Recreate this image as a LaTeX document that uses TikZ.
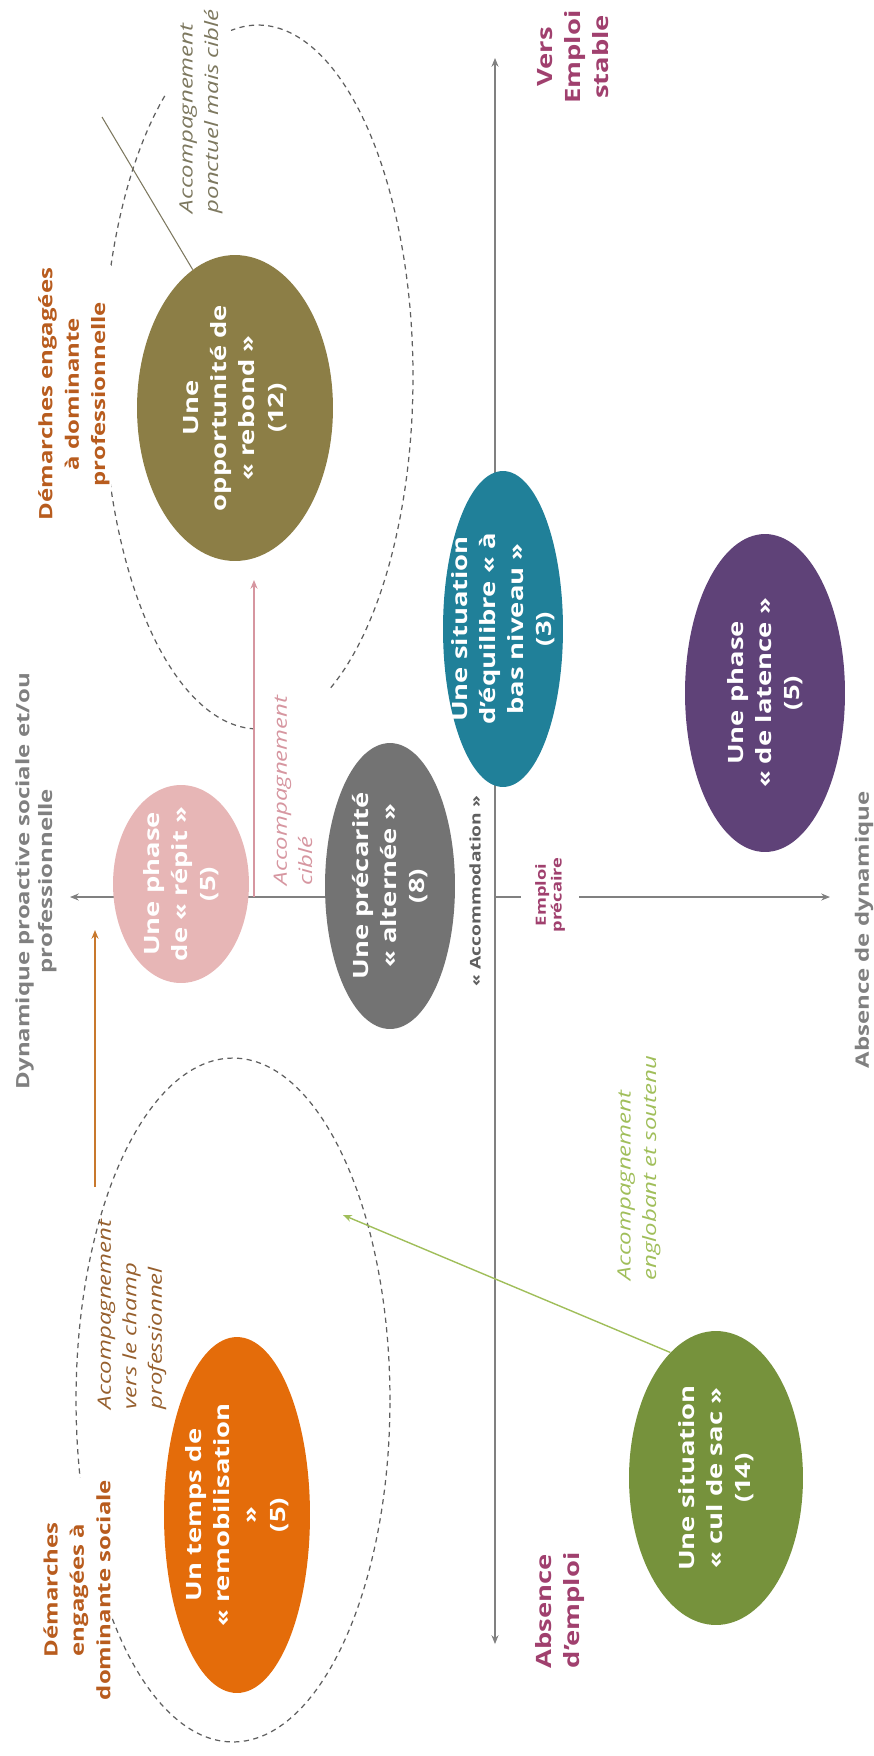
\documentclass[tikz,border=0pt]{standalone}
\usepackage{fontspec}
\setmainfont{Open Sans}
\usetikzlibrary{shapes.geometric}
\usetikzlibrary{arrows.meta}

\definecolor{axisgray}{RGB}{128,128,128}
\definecolor{dashgray}{RGB}{95,95,95}
\definecolor{rebondcol}{RGB}{140,126,70}
\definecolor{repitcol}{RGB}{231,182,182}
\definecolor{alterneecol}{RGB}{115,115,115}
\definecolor{equilibrecol}{RGB}{32,128,153}
\definecolor{latencecol}{RGB}{95,66,120}
\definecolor{remobcol}{RGB}{228,108,10}
\definecolor{culdesaccol}{RGB}{118,146,60}
\definecolor{emploicol}{RGB}{160,64,110}
\definecolor{demarchecol}{RGB}{184,92,30}
\definecolor{ponctuelcol}{RGB}{125,120,95}
\definecolor{ciblecol}{RGB}{214,150,160}
\definecolor{champcol}{RGB}{150,95,45}
\definecolor{englobantcol}{RGB}{160,190,90}
\definecolor{orangeline}{RGB}{200,120,45}

\begin{document}
\begin{tikzpicture}[x=0.02cm, y=-0.02cm]
					\tikzstyle{axisline}=[draw=axisgray, line width=0.6pt]
					\tikzstyle{tip}=[-{Stealth[length=5pt,width=4pt]}]
					\tikzstyle{ring}=[draw=dashgray, line width=0.7pt, dash pattern=on 3pt off 2.5pt]
					\tikzstyle{oval}=[ellipse, draw=none, inner sep=0pt]
					\tikzstyle{turned}=[rotate=90, xscale=1.3, inner sep=1pt]
					\tikzstyle{ovaltext}=[turned, text=white, align=center, font=\bfseries\fontsize{12}{16}\selectfont]
					\tikzstyle{axislabel}=[turned, text=axisgray, align=center, font=\bfseries\fontsize{10.5}{13}\selectfont]
					\tikzstyle{demarche}=[turned, text=demarchecol, fill=white, align=center, font=\bfseries\fontsize{10.5}{15}\selectfont]
					\tikzstyle{emploi}=[turned, text=emploicol, font=\bfseries\fontsize{12}{16}\selectfont]
					\tikzstyle{accomp}=[turned, anchor=west, align=left, font=\itshape\fontsize{10.5}{14.5}\selectfont]

					\useasboundingbox (0,0) rectangle (874,1756);

					\coordinate (vtop) at (495,58);
					\coordinate (vbottom) at (495,1644);
					\coordinate (ltip) at (70,897);
					\coordinate (lstart) at (400,897);
					\coordinate (vcross) at (495,897);
					\coordinate (rtip) at (830,897);
					\draw [axisline, {Stealth[length=5pt,width=4pt]}-{Stealth[length=5pt,width=4pt]}] (vtop) -- (vbottom);
					\draw [axisline, tip] (lstart) -- (ltip);
					\draw [axisline, tip] (vcross) -- (rtip);

					\coordinate (proring) at (258,377);
					\coordinate (socring) at (233,1400);
					\draw [ring] (proring) ++(-62:3.1cm and 7.04cm) arc[start angle=-62, end angle=100, x radius=3.1cm, y radius=7.04cm];
					\draw [ring] (proring) ++(127:3.1cm and 7.04cm) arc[start angle=127, end angle=270, x radius=3.1cm, y radius=7.04cm];
					\draw [ring] (socring) ellipse[x radius=3.14cm, y radius=6.84cm];

					\coordinate (ciblefoot) at (254,897);
					\coordinate (cibletip) at (254,580);
					\coordinate (champfoot) at (95,1187);
					\coordinate (champtip) at (95,930);
					\coordinate (ponctueltip) at (102,117);
					\coordinate (englobanttip) at (343,1215);
					\draw [draw=ciblecol, line width=0.6pt, tip] (ciblefoot) -- (cibletip);
					\draw [draw=orangeline, line width=0.8pt, tip] (champfoot) -- (champtip);

					\node [oval, fill=rebondcol, minimum width=3.92cm, minimum height=6.12cm] (rebond) at (235,408) {};
					\node [oval, fill=repitcol, minimum width=2.72cm, minimum height=3.96cm] (repit) at (181,884) {};
					\node [oval, fill=alterneecol, minimum width=2.6cm, minimum height=5.72cm] (alternee) at (390,886) {};
					\node [oval, fill=equilibrecol, minimum width=2.4cm, minimum height=6.32cm] (equilibre) at (503,629) {};
					\node [oval, fill=latencecol, minimum width=3.2cm, minimum height=6.36cm] (latence) at (765,693) {};
					\node [oval, fill=remobcol, minimum width=2.92cm, minimum height=7.12cm] (remob) at (237,1515) {};
					\node [oval, fill=culdesaccol, minimum width=3.48cm, minimum height=5.88cm] (culdesac) at (716,1478) {};

					\draw [draw=ponctuelcol, line width=0.6pt] (rebond.107) -- (ponctueltip);
					\draw [draw=englobantcol, line width=0.8pt, tip] (culdesac.110) -- (englobanttip);

					\node [ovaltext] (rebondtxt) at (rebond) {Une\\opportunité de\\« rebond »\\(12)};
					\node [ovaltext] (repittxt) at (repit) {Une phase\\de « répit »\\(5)};
					\node [ovaltext] (alterneetxt) at (alternee) {Une précarité\\« alternée »\\(8)};
					\node [ovaltext] (equilibretxt) at (equilibre) {Une situation\\d’équilibre « à\\bas niveau »\\(3)};
					\node [ovaltext] (latencetxt) at (latence) {Une phase\\« de latence »\\(5)};
					\node [ovaltext] (remobtxt) at (remob) {Un temps de\\« remobilisation\\»\\(5)};
					\node [ovaltext] (culdesactxt) at (culdesac) {Une situation\\« cul de sac »\\(14)};

					\node [axislabel] (dynamique) at (36,881) {Dynamique proactive sociale et/ou\\professionnelle};
					\node [axislabel] (absdynamique) at (864,930) {Absence de dynamique};
					\node [emploi, align=center] (stable) at (573,57) {Vers\\Emploi\\stable};
					\node [emploi, anchor=west, align=left] (absemploi) at (560,1671) {Absence\\d’emploi};
					\node [turned, text=emploicol, fill=white, inner ysep=8pt, align=center, font=\bfseries\fontsize{8}{9}\selectfont] (precaire) at (550,895) {Emploi\\précaire};
					\node [turned, text=dashgray, font=\bfseries\fontsize{8.4}{10}\selectfont] (accommodation) at (475,891) {« Accommodation »};

					\node [demarche] (demarchepro) at (74,394) {Démarches engagées\\à dominante\\professionnelle};
					\node [demarche] (demarchesoc) at (77,1590) {Démarches\\engagées à\\dominante sociale};

					\node [accomp, text=ponctuelcol] (ponctuel) at (201,216) {Accompagnement\\ponctuel mais ciblé};
					\node [accomp, text=ciblecol] (cible) at (293,888) {Accompagnement\\ciblé};
					\node [accomp, text=champcol] (champ) at (132,1412) {Accompagnement\\vers le champ\\professionnel};
					\node [accomp, text=englobantcol] (englobant) at (639,1283) {Accompagnement\\englobant et soutenu};
				\end{tikzpicture}
\end{document}
